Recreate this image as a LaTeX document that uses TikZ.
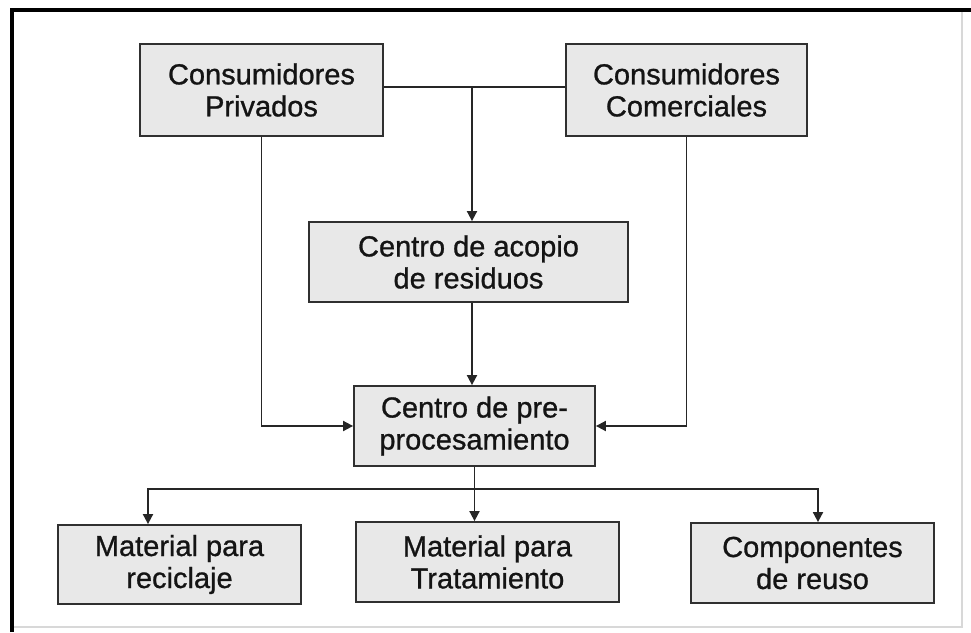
\documentclass[tikz,border=0pt]{standalone}
\usepackage{fontspec}
\setmainfont{Liberation Sans}
\newfontfamily\boxfont[FakeBold=0.9]{Liberation Sans}
\usetikzlibrary{arrows.meta}
\definecolor{boxfill}{HTML}{E8E8E8}
\definecolor{boxline}{HTML}{303030}
\definecolor{frameg}{HTML}{D8D8D8}
\begin{document}
\begin{tikzpicture}[x=1pt,y=-1pt,
  box/.style={draw=boxline,line width=1.8pt,fill=boxfill,align=center,inner sep=0pt,
    font=\boxfont\fontsize{29}{32}\selectfont,text=black!92},
  conn/.style={draw=black!85,line width=1.8pt},
  tip/.style={-{Triangle[length=10pt,width=10pt]}}]
\useasboundingbox (0,0) rectangle (971,632);
\fill[white] (0,0) rectangle (971,632);
% frame
\draw[frameg,line width=1.5pt] (962,12) -- (962,627) -- (13,627);
\draw[black,line width=3.5pt] (12,632) -- (12,10) -- (971,10);
% nodes
\node[box,minimum width=243pt,minimum height=92pt] (cp) at (261.5,90) {Consumidores\\Privados};
\node[box,minimum width=241pt,minimum height=92pt] (cc) at (686.5,90) {Consumidores\\Comerciales};
\node[box,minimum width=319pt,minimum height=80pt] (ca) at (468.5,262) {Centro de acopio\\de residuos};
\node[box,minimum width=241pt,minimum height=80pt] (pre) at (474.5,426) {Centro de pre-\\procesamiento};
\node[box,minimum width=243pt,minimum height=79pt] (m1) at (179.5,564.5) {Material para\\reciclaje};
\node[box,minimum width=263pt,minimum height=80pt] (m2) at (487.5,562) {Material para\\Tratamiento};
\node[box,minimum width=243pt,minimum height=80pt] (m3) at (812.5,563) {Componentes\\de reuso};
% junctions
\coordinate (j1) at (472,87);
\coordinate (bl) at (148,489);
\coordinate (br) at (818,489);
% connectors
\draw[conn] (cp.east |- j1) -- (cc.west |- j1);
\draw[conn,tip] (j1) -- (j1 |- ca.north);
\draw[conn,tip] (ca.south -| j1) -- (pre.north -| j1);
\draw[conn,tip] (cp.south) |- (pre.west);
\draw[conn,tip] (cc.south) |- (pre.east);
\draw[conn,tip] (pre.south) -- (pre.south |- m2.north);
\draw[conn,{Triangle[length=10pt,width=10pt]}-{Triangle[length=10pt,width=10pt]}] (bl |- m1.north) -- (bl) -- (br) -- (br |- m3.north);
\end{tikzpicture}
\end{document}
